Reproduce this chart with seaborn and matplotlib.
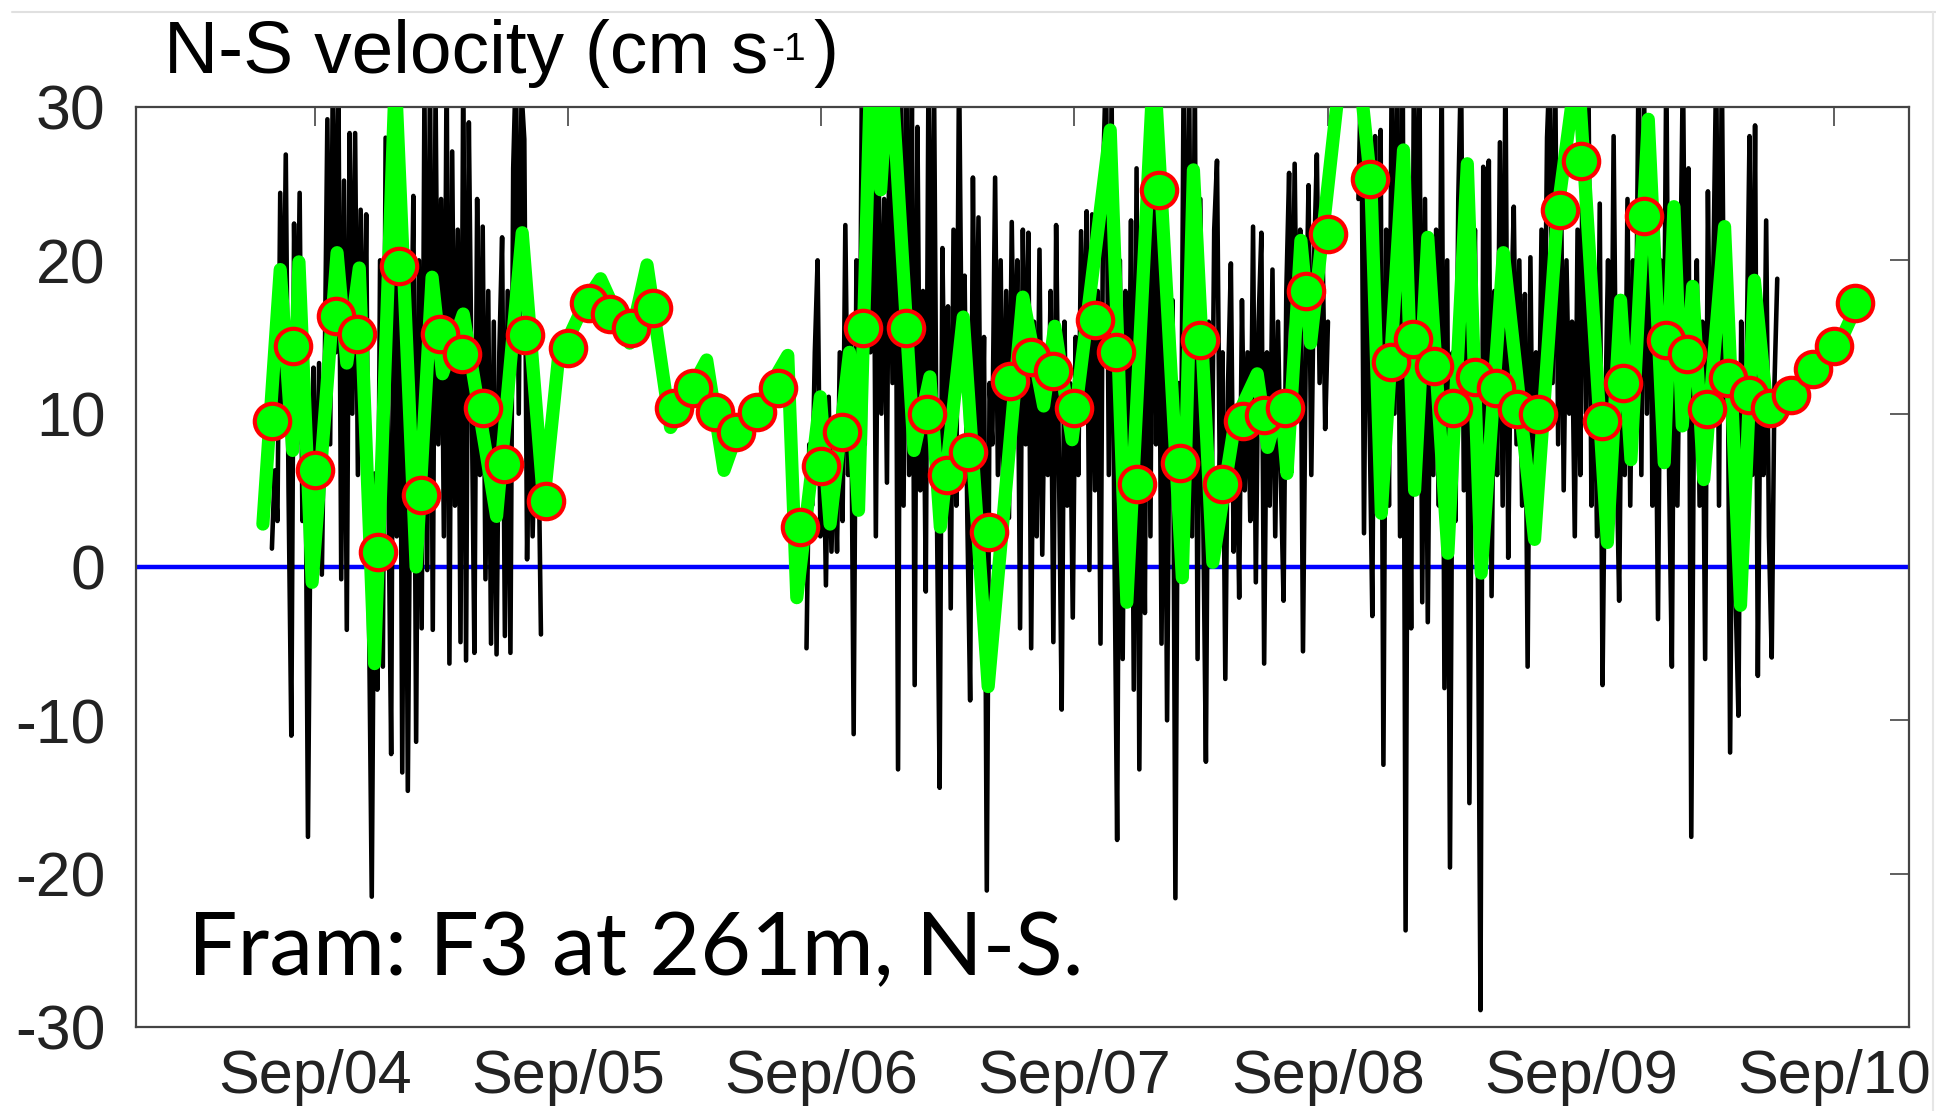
import numpy as np
import pandas as pd
import matplotlib
matplotlib.use("Agg")
import matplotlib.pyplot as plt
import matplotlib.dates as mdates
from matplotlib.lines import Line2D
import seaborn as sns

# ---------------------------------------------------------------------------
# Fram Strait mooring F3, 261 m: north-south velocity (cm/s)
# ---------------------------------------------------------------------------

# Raw record, one value every 4 days (two deployments; NaN = no data)
raw_start_1 = "2004-07-01"
raw_speed_1 = [
    1.2, 6.3, 3, 24.4, 10, 26.9, 5, -11,
    22.4, 8, 24.4, 3, 12, -17.6, 6, 13,
    -0.5, 13.3, -0.5, 12, 29.2, 8, 33, 14,
    31, -0.8, 25.2, -4.1, 28.3, 10, 28.3, 6,
    23.3, 8, 23, -3, -21.5, 6.1, -8, 20,
    -6.5, 28, 5, -12.2, 30, 2, 27, -13.4,
    22, -14.6, 10, 24.2, -11.4, 20, -4, 31,
    -0.2, 33, -4.1, 31, 8, 24, 2, 33,
    -6.3, 27.1, 4, 22, -4.9, 33, -6.1, 29,
    12, -5.6, 24, 6, 22.2, -0.8, 18, -5,
    16, -5.7, 14, 21.5, -4.5, 18, -5.6, 26,
    33, 10, 31, 27.9, 0.5, 14, 2, 10,
    9.5, -4.4,
]

raw_start_2 = "2006-08-11"
raw_speed_2 = [
    -5.3, 8, 4, 14, 20, 2, 11, -1.2,
    11.1, 1, 9, 1.0, 14, 3, 22.3, 6,
    15, -10.9, 20, 4, 33, 8, 35, 14,
    33, 2, 26, 10, 24, 5.5, 33, 12,
    34, -13.2, 33, 4, 33, 6, 31, -7.7,
    28.7, 5, 18, -1.6, 33, 8, 31, 4,
    -14.4, 20.8, 6, 17, -2.7, 22, 4, 33,
    12, 19, 3, -8.7, 25.4, 6, 22.8, 2,
    15, -21.1, 12, 8, 25.4, 6, 20, 3,
    18, 3.2, 22.5, 9, 20, -4, 22, 8,
    21.8, -5.3, 16, 2, 20.7, 0.8, 14, 6,
    18, -4.9, 22.3, 7, -9.3, 16, 4, 12,
    -3.3, 15, 6, 21.9, 10, 23.2, -0.2, 23,
    5, 18, -5, 26, 33, 6, 31, 2,
    -17.8, 20, -6, 18, 4, 22.6, -8, 26,
    -13.2, 16, -3, 31, 2, 33, 8, 24,
    -5, 20, -10, 14, 17.4, -21.6, 12, 4,
    33, 8, 31, 2, 32, -6, 24, 4,
    -12.7, 16, 2, 22, 26.5, 6, 14, -7.3,
    12, 19.8, 1.0, 10, -2, 17.4, 5, 14,
    3, 22.2, -1, 16, 21.8, -6.3, 14, 4,
    19.4, 2, 16, 6, -2.2, 18, 25.7, 8,
    26.3, 10, 22, -5.5, 14, 24.9, 6, 20,
    26.9, 12, 22, 9, 16, np.nan, np.nan, np.nan,
    np.nan, np.nan, np.nan, np.nan, np.nan, np.nan, np.nan, 24,
    33, 2.2, 26, 10, -3.2, 28.1, 8, 28.5,
    -12.9, 22, 4, 33, 10, 33, 2, 31,
    -23.7, 20, -4, 33, 14, 32, -2.3, 24,
    -3.6, 18, 6, 22, 4, 33, -7.9, 20,
    -19.6, 14, 3, 24, 33, 5, 26.5, -15.4,
    12, 22, 2, -28.9, 26.1, 8, 26.5, -1.9,
    18, 6, 27.7, 4, 33, 0.6, 16, 23.5,
    8, 20, 4, 17.8, -6.5, 20.2, 2, 14,
    6, 22, 10, 28, 33, 12, 31, 8,
    26, 5, 20, 10, 16, 2, 22, 6,
    33, 10, 30, 4, 18, 2, 23.7, -7.7,
    10, 20, 4, 28.1, 8, -2.2, 16, 6,
    24, 4, 20, 12, 33, 6, 31, 10,
    28.1, 4, 16, -3.4, 20, 8, 33, 6,
    -6.5, 22, 4, 18, 33, 10, 26, -17.6,
    12, 20, 4, 16, -6, 24.5, 8, 20,
    33, 4, 33, 10, 19.8, -12.1, 14, -2,
    -9.7, 16, 2, 14.3, 28.1, 6, 28.8, -7.1,
    14, 6, 22.6, 2, -5.9, 12, 18.8,
]

# Low-pass filtered series: days since 2004-06-01 and value
filt_origin = "2004-06-01"
filt_day = [
    17, 42, 60, 69, 88, 124, 138, 156, 178, 208,
    238, 261, 276, 306, 354, 391, 422, 443, 482, 504,
    546, 571, 605, 657, 682, 707, 728, 774, 787, 821,
    835, 863, 876, 894, 908, 921, 956, 979, 994, 1027,
    1063, 1113, 1143, 1159, 1184, 1239, 1263, 1302, 1343, 1359,
    1387, 1419, 1451, 1466, 1485, 1494, 1514, 1528, 1585, 1615,
    1630, 1662, 1678, 1697, 1726, 1754, 1774, 1806, 1851, 1884,
    1913, 1956, 1975, 1990, 2015, 2038, 2052, 2064, 2079, 2095,
    2125, 2148, 2168, 2187, 2225, 2251, 2289, 2317,
]
filt_val = [
    2.8, 19.4, 7.6, 19.9, -1.0, 20.5, 13.3, 19.5, -6.3, 32,
    0.0, 18.9, 12.6, 16.5, 3.3, 21.8, 4.2, 13.5, 17.3, 18.8,
    14.6, 19.7, 9.1, 13.5, 6.3, 9.5, 10.2, 13.8, -2.0, 11.1,
    2.8, 14.0, 3.7, 33, 24.6, 34, 7.6, 12.4, 2.6, 16.3,
    -7.8, 17.6, 10.5, 15.7, 8.3, 28.5, -2.3, 33, -0.7, 25.9,
    0.3, 9.5, 12.6, 7.8, 10.9, 6.1, 21.3, 14.6, 38, 25,
    3.5, 27.2, 5.0, 21.5, 0.9, 26.3, -0.4, 20.5, 1.8, 23.1,
    33, 1.6, 17.4, 7.0, 29.2, 6.8, 23.5, 9.2, 18.3, 5.7,
    22.2, -2.5, 18.7, 10.0, 11.2, 12.9, 14.4, 17.2,
]

# Monthly means, Jul 2004 .. Oct 2010 (NaN = off the top of the scale)
month_start = "2004-07-01"
monthly_mean = [
    9.5, 14.4, 6.3, 16.4, 15.2, 1.0, 19.6, 4.7, 15.2, 13.9,
    10.4, 6.7, 15.1, 4.3, 14.3, 17.2, 16.5, 15.6, 16.9, 10.4,
    11.7, 10.1, 8.8, 10.1, 11.7, 2.6, 6.6, 8.8, 15.6, np.nan,
    15.6, 10.0, 6.0, 7.5, 2.3, 12.1, 13.7, 12.8, 10.4, 16.1,
    14.0, 5.4, 24.6, 6.8, 14.8, 5.4, 9.5, 9.9, 10.4, 18.0,
    21.7, np.nan, 25.3, 13.4, 14.9, 13.1, 10.4, 12.4, 11.7, 10.3,
    10.0, 23.3, 26.5, 9.5, 12.0, 22.9, 14.8, 13.9, 10.3, 12.3,
    11.2, 10.4, 11.2, 12.9, 14.4, 17.2,
]

year_ticks = ["2004-09-01", "2005-09-01", "2006-09-01", "2007-09-01",
              "2008-09-01", "2009-09-01", "2010-09-01"]
x_range = ["2003-12-18", "2010-12-18"]


# ---------------------------------------------------------------------------
def raw_frame(start, values, first_piece):
    df = pd.DataFrame({
        "time": pd.date_range(start, periods=len(values), freq="4D"),
        "v": values,
    })
    df["piece"] = first_piece + df["v"].isna().cumsum()
    return df.dropna()


raw = pd.concat([raw_frame(raw_start_1, raw_speed_1, 0),
                 raw_frame(raw_start_2, raw_speed_2, 100)],
                ignore_index=True)

filt = pd.DataFrame({
    "time": pd.Timestamp(filt_origin) + pd.to_timedelta(filt_day, unit="D"),
    "v": filt_val,
})

monthly = pd.DataFrame({
    "time": pd.date_range(month_start, periods=len(monthly_mean), freq="MS"),
    "v": monthly_mean,
}).dropna()

sns.set_theme(style="white")
plt.rcParams["font.family"] = ["Liberation Sans", "DejaVu Sans"]
plt.rcParams["axes.unicode_minus"] = False

fig = plt.figure(figsize=(19.36, 11.11), dpi=100)
fig.patch.set_facecolor("white")
ax = fig.add_axes([136 / 1936, 1 - 1027 / 1111, (1909 - 136) / 1936, 920 / 1111])
ax.set_facecolor("white")

ax.axhline(0, color="#0000ff", lw=3.2, zorder=1)

sns.lineplot(data=raw, x="time", y="v", units="piece", estimator=None,
             sort=False, color="black", lw=3.3, ax=ax, zorder=2)
sns.lineplot(data=filt, x="time", y="v", estimator=None, sort=False,
             color="#00ff00", lw=9.5, ax=ax, zorder=3,
             solid_joinstyle="round", solid_capstyle="round")
sns.scatterplot(data=monthly, x="time", y="v", marker="o", s=650,
                color="#00ff00", edgecolor="#ff0000", linewidth=3,
                ax=ax, zorder=4)

ax.set_ylim(-30, 30)
ax.set_yticks(np.arange(-30, 31, 10))
ax.set_xlim(pd.Timestamp(x_range[0]), pd.Timestamp(x_range[1]))
ax.set_xticks([pd.Timestamp(t) for t in year_ticks])
ax.xaxis.set_major_formatter(mdates.DateFormatter("%b/%y"))
ax.set_xlabel("")
ax.set_ylabel("")

for side in ["left", "right", "top", "bottom"]:
    ax.spines[side].set_visible(True)
    ax.spines[side].set_color("#444444")
    ax.spines[side].set_linewidth(1.6)

ax.tick_params(axis="both", which="major", direction="in", length=14,
               width=1.2, top=True, right=True, labelsize=45,
               color="#444444", labelcolor="#222222")
ax.tick_params(axis="y", pad=22)
ax.tick_params(axis="x", labelsize=44, pad=16)

# Panel heading with a raised "-1" exponent
x_title, y_base = 164 / 1936, 1 - 73 / 1111
head = fig.text(x_title, y_base, "N-S velocity (cm s", fontsize=54,
                ha="left", va="baseline", color="black")
fig.canvas.draw()
renderer = fig.canvas.get_renderer()
fw = fig.bbox.width
x_sup = head.get_window_extent(renderer).x1 / fw + 3 / 1936
sup = fig.text(x_sup, y_base + 13 / 1111, "-1", fontsize=28,
               ha="left", va="baseline", color="black")
x_close = sup.get_window_extent(renderer).x1 / fw + 8 / 1936
fig.text(x_close, y_base, ")", fontsize=54, ha="left", va="baseline",
         color="black")

fig.text(188 / 1936, 1 - 975 / 1111, "Fram: F3 at 261m, N-S.",
         family=["Lato", "DejaVu Sans"], fontsize=63, ha="left",
         va="baseline", color="black", zorder=5)

# thin frame around the panel edge
fig.add_artist(Line2D([12 / 1936, 1], [1 - 12 / 1111, 1 - 12 / 1111],
                      transform=fig.transFigure, color="#e0e0e0", lw=1.5))
fig.add_artist(Line2D([1933 / 1936, 1933 / 1936], [0, 1 - 12 / 1111],
                      transform=fig.transFigure, color="#e6e6e6", lw=1.5))

fig.savefig("out.png", dpi=100, facecolor="white")
